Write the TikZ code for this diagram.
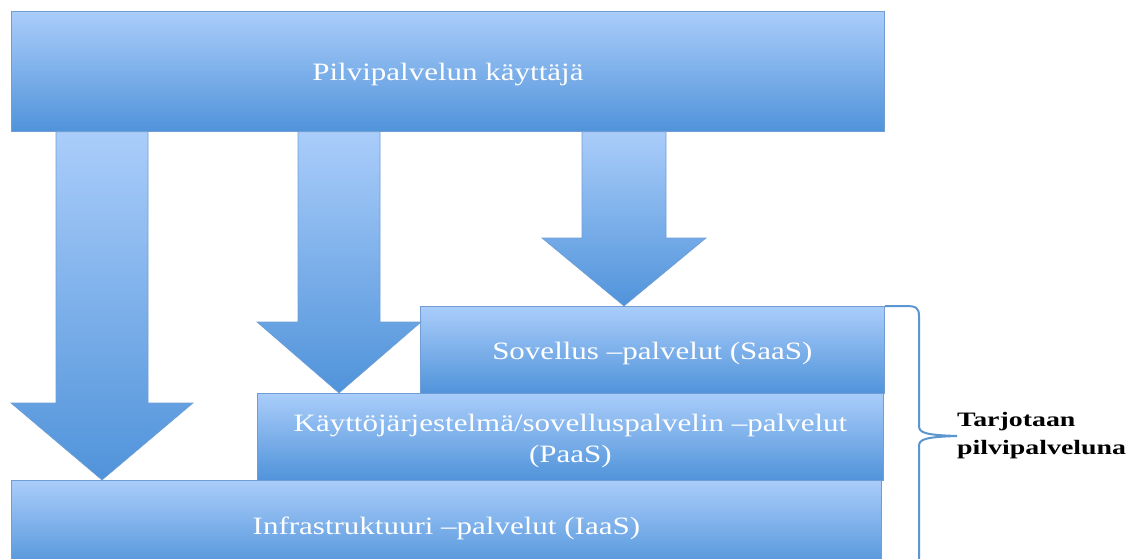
\documentclass[tikz,border=0pt]{standalone}
\usepackage{fontspec}
\setmainfont[FakeStretch=1.24]{Liberation Serif}
\newfontfamily\widebold[FakeStretch=1.36]{Liberation Serif}
\usetikzlibrary{calc}
\definecolor{boxtop}{RGB}{170,205,250}
\definecolor{boxbot}{RGB}{80,147,218}
\definecolor{boxedge}{RGB}{112,158,212}
\definecolor{bracecol}{RGB}{91,150,208}
\tikzset{
  layer/.style={draw=boxedge, line width=0.8pt, top color=boxtop, bottom color=boxbot,
    inner sep=0pt, anchor=north west},
  layertext/.style={text=white, font=\fontsize{25}{31}\selectfont, align=center,
    inner sep=0pt, yshift=-4pt},
  blockarrow/.style={draw=boxedge, line width=0.6pt, top color=boxtop, bottom color=boxbot},
  bracestyle/.style={draw=bracecol, line width=2pt},
  sidelabel/.style={anchor=west, align=left, inner sep=0pt, text=black,
    font=\widebold\bfseries\fontsize{20.5}{28}\selectfont},
}
% wide downward block arrow: #1 source anchor, #2 target anchor, #3 centre x,
% #4 half shaft width, #5 half head width, #6 y where the head starts
\newcommand\blockdown[6]{%
  \path[blockarrow] (#3-#4,0 |- #1) -- (#3+#4,0 |- #1) -- (#3+#4,#6) -- (#3+#5,#6)
    -- (#3,0 |- #2) -- (#3-#5,#6) -- (#3-#4,#6) -- cycle;}
\begin{document}
\begin{tikzpicture}[x=1pt,y=-1pt]
  \useasboundingbox (0,0) rectangle (1133,559);
  \clip (0,0) rectangle (1133,559);

  % service layers
  \node[layer, minimum width=870pt, minimum height=90pt,
    label={[layertext, yshift=1pt]center:Infrastruktuuri –palvelut (IaaS)}] (iaas) at (11,480) {};
  \node[layer, minimum width=626pt, minimum height=87pt,
    label={[layertext]center:{Käyttöjärjestelmä/sovelluspalvelin –palvelut\\(PaaS)}}] (paas) at (257,393) {};
  \node[layer, minimum width=464pt, minimum height=87pt,
    label={[layertext]center:Sovellus –palvelut (SaaS)}] (saas) at (420,306) {};
  \node[layer, minimum width=873pt, minimum height=120pt,
    label={[layertext, yshift=1pt]center:Pilvipalvelun käyttäjä}] (user) at (11,11) {};

  % arrows from the user down to each layer
  \blockdown{user.south}{iaas.north}{102}{46}{91}{403}
  \blockdown{user.south}{paas.north}{339}{41}{82}{322}
  \blockdown{user.south}{saas.north}{624}{42}{82}{238}

  % brace grouping the offered services
  \node[sidelabel] (offer) at (957,436) {Tarjotaan\\pilvipalveluna};
  \draw[bracestyle] (saas.north east) -- (906,306)
    .. controls (916,306) and (919,308) .. (919,316) -- (919,426)
    .. controls (919,433) and (926,435) .. (offer.west)
    .. controls (926,437) and (919,439) .. (919,446) -- (919,580);
\end{tikzpicture}
\end{document}
